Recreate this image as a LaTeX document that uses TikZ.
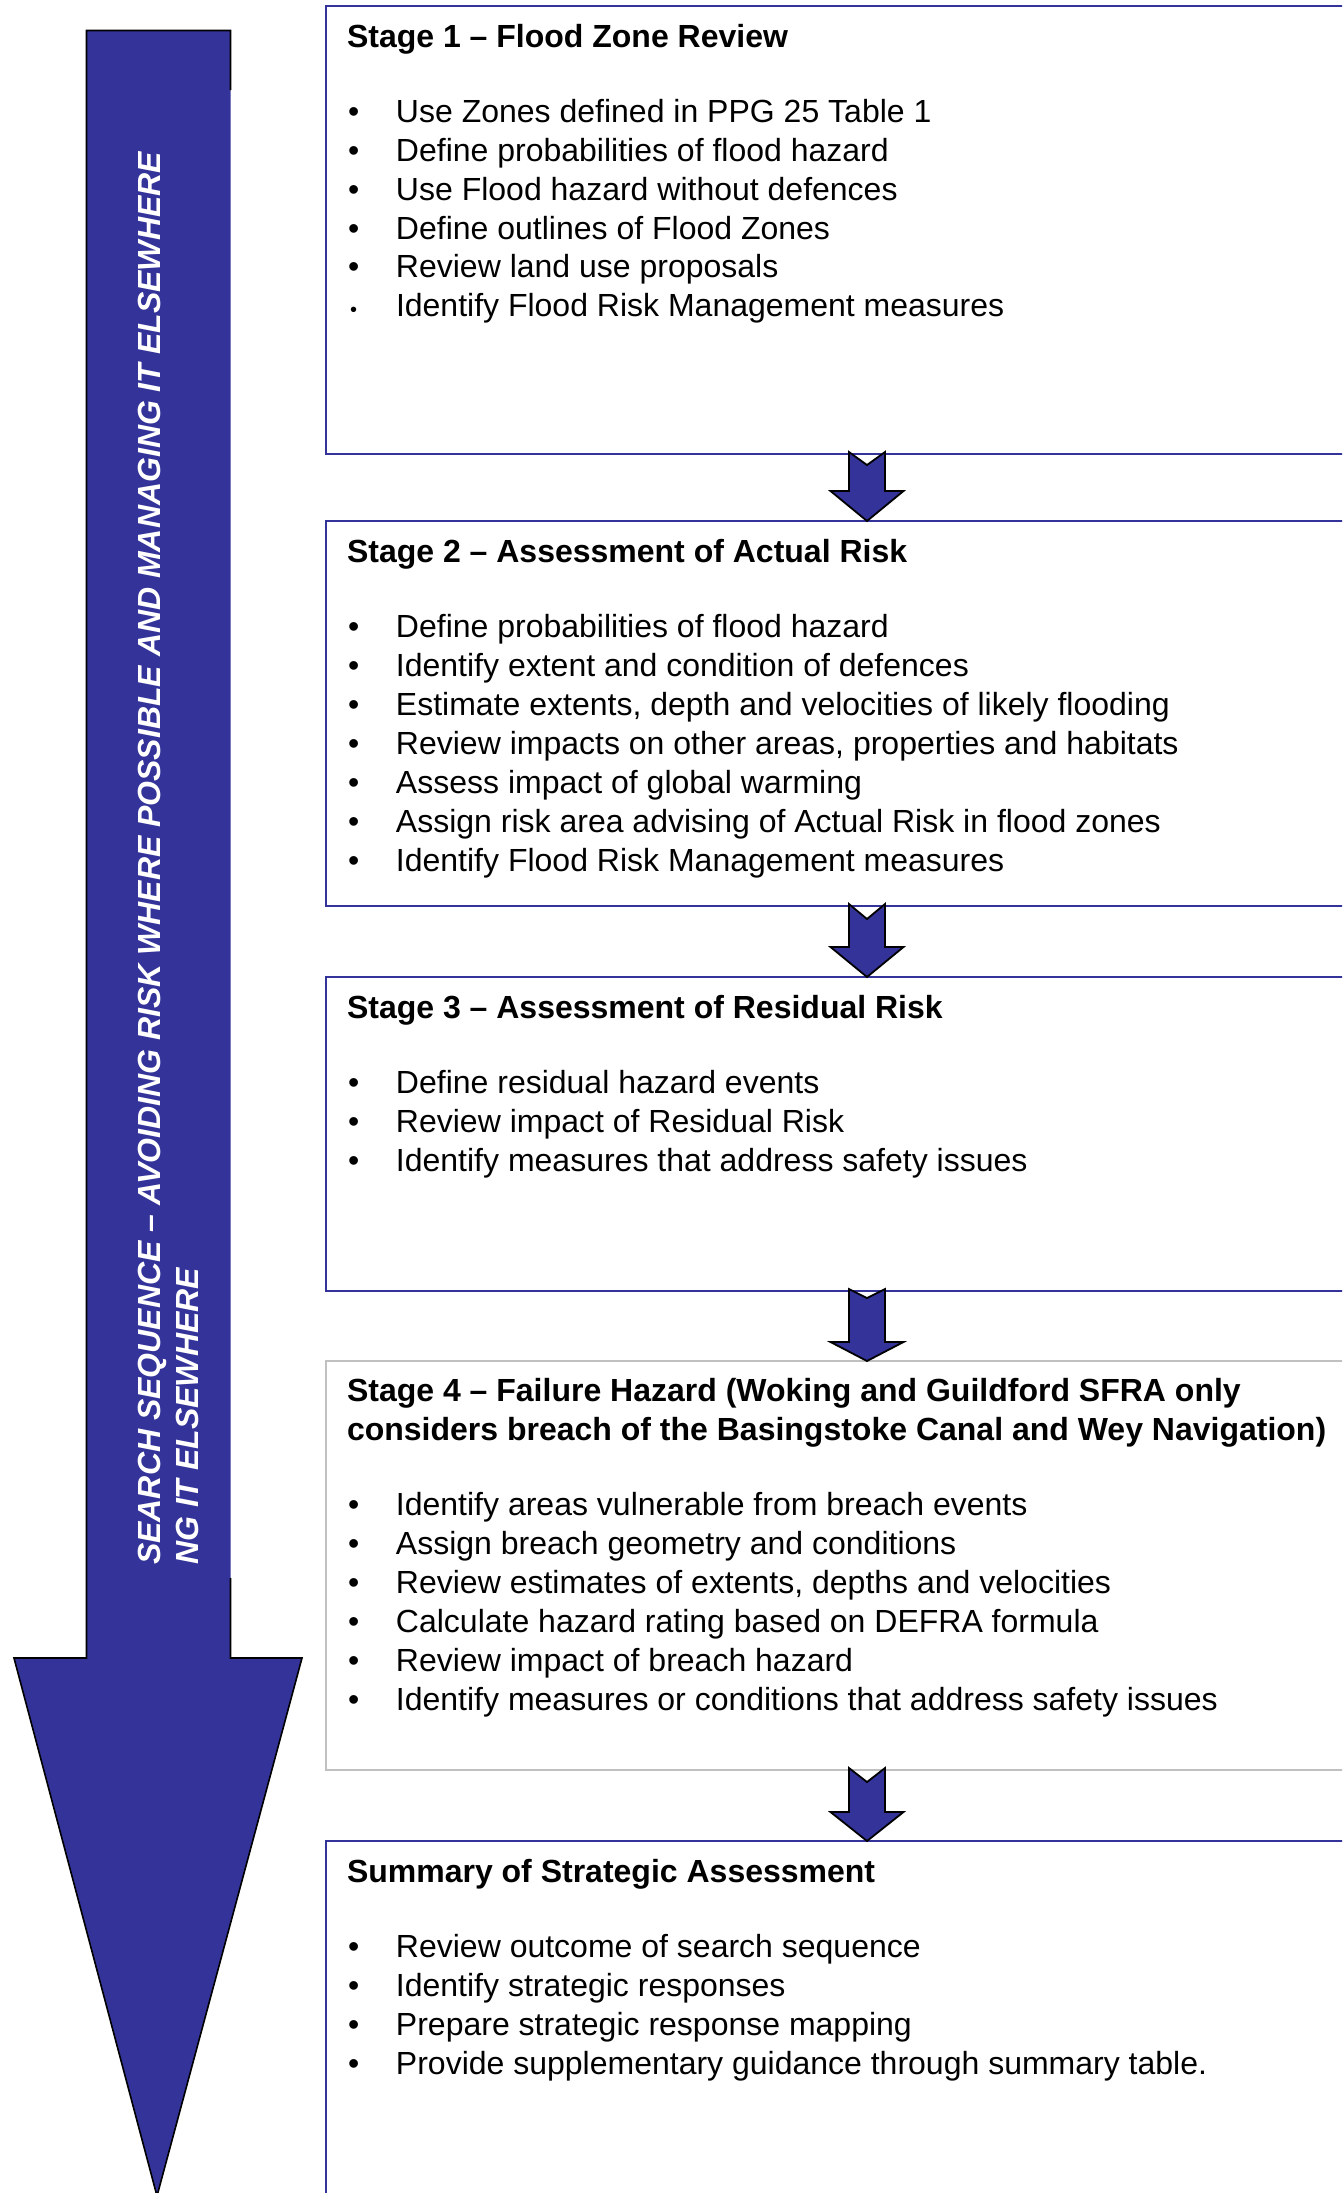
\documentclass[tikz,border=0pt]{standalone}
\usepackage{fontspec}
\setmainfont{Liberation Sans}
\usetikzlibrary{calc}
\definecolor{arrowblue}{HTML}{333399}
\definecolor{boxgray}{HTML}{C0C0C0}
\tikzset{
  stagebox/.style={draw=arrowblue, line width=2pt, minimum width=1082pt, anchor=north west, inner sep=0pt, outer sep=0pt},
  graybox/.style={stagebox, draw=boxgray},
  txt/.style={anchor=base west, inner sep=0pt, outer sep=0pt, font=\fontsize{32}{38.9}\selectfont, text=black},
  ttl/.style={txt, font=\fontsize{32}{38.9}\selectfont\bfseries},
  blockarrow/.style={fill=arrowblue, draw=black, line width=1.8pt, line join=miter},
  bigfill/.style={fill=arrowblue},
  bigline/.style={draw=black, line width=1.6pt, line join=miter},
  sidetxt/.style={rotate=90, anchor=base west, inner sep=0pt, text=white, font=\fontsize{32}{38}\selectfont\bfseries\itshape}
}
\newcommand\bul{\makebox[48pt][l]{\textbullet}}
\newcommand\stageitems[3]{%
  \foreach \t [count=\i] in {#3} {\node[txt] (#1-i\i) at ($(#1.north west)+(22,{#2+(\i-1)*38.9})$) {\bul\t};}%
}
\newcommand\stagearrow[4]{%
  \draw[blockarrow] ($(#1.south)+(-18,-2)$) -- ++(18,#4) -- ++(18,-#4) -- ($(#2.north)+(18,-#3)$) -- ++(18.5,0) -- (#2.north) -- ++(-36.5,-#3) -- ++(18.5,0) -- cycle;%
}
\begin{document}
\begin{tikzpicture}[x=1pt,y=-1pt]
\useasboundingbox (0,0) rectangle (1342,2193);
\clip (0,0) rectangle (1342,2193);
\fill[white] (0,0) rectangle (1342,2193);

% big side arrow
\fill[bigfill] (86.5,30.5) -- (230.5,30.5) -- (230.5,1658) -- (302,1658) -- (157,2196) -- (14,1658) -- (86.5,1658) -- cycle;
\draw[bigline] (230.5,1578) -- (230.5,1658) -- (302,1658) -- (157,2196) -- (14,1658) -- (86.5,1658) -- (86.5,30.5) -- (230.5,30.5) -- (230.5,90);
\node[sidetxt] (side1) at (160,1565) {SEARCH SEQUENCE – AVOIDING RISK WHERE POSSIBLE AND MANAGING IT ELSEWHERE};
\node[sidetxt] (side2) at (198,1565) {NG IT ELSEWHERE};

% stage boxes
\node[stagebox, minimum height=448pt] (b1) at (326,6) {};
\node[stagebox, minimum height=385pt] (b2) at (326,521) {};
\node[stagebox, minimum height=314pt] (b3) at (326,977) {};
\node[graybox,  minimum height=409pt] (b4) at (326,1361) {};
\node[stagebox, minimum height=500pt] (b5) at (326,1841) {};

% texts
\node[ttl] (b1-t) at ($(b1.north west)+(21,41)$) {Stage 1 – Flood Zone Review};
\stageitems{b1}{116.3}{Use Zones defined in PPG 25 Table 1, Define probabilities of flood hazard, Use Flood hazard without defences, Define outlines of Flood Zones, Review land use proposals}
\node[txt] (b1-i6) at ($(b1.north west)+(22,{116.3+5*38.9})$) {\makebox[48pt][l]{\hspace*{2pt}\fontsize{20}{20}\selectfont\textbullet}Identify Flood Risk Management measures};

\node[ttl] (b2-t) at ($(b2.north west)+(21,41.5)$) {Stage 2 – Assessment of Actual Risk};
\stageitems{b2}{116.7}{Define probabilities of flood hazard, Identify extent and condition of defences, {Estimate extents, depth and velocities of likely flooding}, {Review impacts on other areas, properties and habitats}, Assess impact of global warming, Assign risk area advising of Actual Risk in flood zones, Identify Flood Risk Management measures}

\node[ttl] (b3-t) at ($(b3.north west)+(21,41.3)$) {Stage 3 – Assessment of Residual Risk};
\stageitems{b3}{116.7}{Define residual hazard events, Review impact of Residual Risk, Identify measures that address safety issues}

\node[ttl] (b4-t1) at ($(b4.north west)+(21,40.3)$) {Stage 4 – Failure Hazard (Woking and Guildford SFRA only};
\node[ttl] (b4-t2) at ($(b4.north west)+(21,79.2)$) {considers breach of the Basingstoke Canal and Wey Navigation)};
\stageitems{b4}{154.7}{Identify areas vulnerable from breach events, Assign breach geometry and conditions, {Review estimates of extents, depths and velocities}, Calculate hazard rating based on DEFRA formula, Review impact of breach hazard, Identify measures or conditions that address safety issues}

\node[ttl] (b5-t) at ($(b5.north west)+(21,41.2)$) {Summary of Strategic Assessment};
\stageitems{b5}{116.7}{Review outcome of search sequence, Identify strategic responses, Prepare strategic response mapping, Provide supplementary guidance through summary table.}

% connecting block arrows
\stagearrow{b1}{b2}{30}{13}
\stagearrow{b2}{b3}{30}{15}
\stagearrow{b3}{b4}{19}{9}
\stagearrow{b4}{b5}{29}{14}
\end{tikzpicture}
\end{document}
